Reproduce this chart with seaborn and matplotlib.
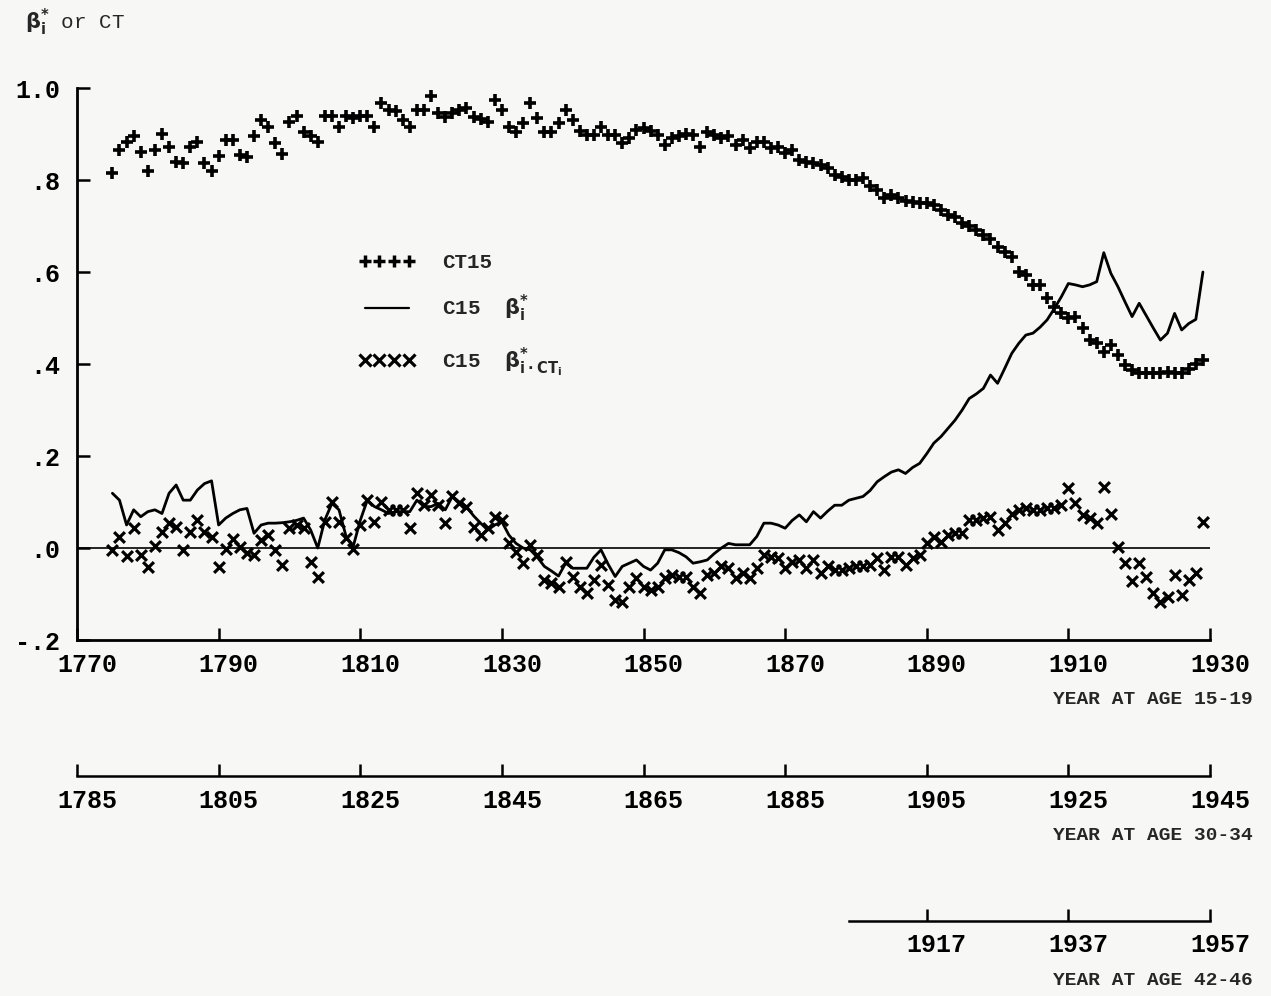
import numpy as np
import pandas as pd
import matplotlib
matplotlib.use("Agg")
import matplotlib.pyplot as plt
import matplotlib.transforms as mtrans
from matplotlib.lines import Line2D
import seaborn as sns

# ---------------- data ----------------
CT15_START = 1775
ct15 = [
    .815, .865, .883, .896, .860, .819, .865, .900, .872, .840,
    .836, .872, .883, .836, .819, .852, .887, .887, .854, .849,
    .895, .930, .916, .880, .857, .927, .940, .905, .895, .883,
    .940, .940, .915, .940, .935, .940, .940, .916, .968, .952,
    .950, .930, .916, .952, .953, .983, .945, .936, .945, .952,
    .956, .936, .932, .927, .974, .953, .915, .905, .924, .968,
    .935, .905, .905, .925, .953, .930, .907, .898, .898, .915,
    .898, .898, .880, .891, .909, .912, .907, .898, .876, .891,
    .895, .900, .898, .872, .905, .898, .891, .895, .876, .887,
    .869, .882, .883, .869, .872, .858, .865, .843, .840, .836,
    .833, .826, .811, .806, .800, .800, .804, .786, .778, .760,
    .767, .760, .755, .753, .751, .751, .746, .735, .724, .720,
    .706, .699, .691, .680, .671, .655, .644, .633, .600, .593,
    .572, .572, .543, .525, .510, .500, .503, .478, .452, .445,
    .427, .441, .420, .398, .387, .380, .380, .380, .381, .383,
    .380, .380, .390, .400, .408,
]

BETA_START = 1775
beta = [
    .119, .104, .050, .083, .068, .079, .083, .075, .119, .137,
    .104, .104, .126, .140, .146, .050, .065, .075, .083, .086,
    .032, .050, .054, .054, .055, .057, .060, .065, .039, .000,
    .061, .097, .083, .025, .003, .060, .104, .090, .083, .075,
    .079, .079, .079, .104, .090, .090, .097, .083, .112, .100,
    .090, .070, .054, .039, .050, .057, .028, .010, .000, -.004,
    -.020, -.040, -.050, -.061, -.033, -.044, -.044, -.044, -.020, -.004,
    -.035, -.062, -.040, -.033, -.026, -.040, -.048, -.033, -.004, -.004,
    -.010, -.019, -.033, -.030, -.026, -.012, .000, .010, .007, .007,
    .007, .025, .054, .054, .050, .043, .060, .072, .057, .079,
    .065, .080, .093, .093, .104, .108, .112, .125, .144, .155,
    .165, .170, .162, .175, .184, .205, .228, .242, .260, .278,
    .300, .325, .335, .347, .376, .358, .390, .423, .445, .463,
    .467, .480, .496, .520, .546, .575, .572, .568, .572, .579,
    .642, .597, .568, .535, .503, .532, .505, .478, .452, .467,
    .510, .474, .488, .497, .600,
]

BCT_START = 1775
beta_ct = [
    -.004, .023, -.017, .043, -.015, -.042, .004, .035, .054, .046,
    -.004, .035, .061, .035, .023, -.042, -.003, .019, .002, -.010,
    -.015, .017, .028, -.004, -.037, .043, .050, .043, -.030, -.064,
    .057, .101, .057, .021, -.003, .050, .104, .057, .101, .083,
    .083, .083, .043, .119, .093, .115, .093, .054, .113, .097,
    .090, .046, .028, .043, .067, .061, .010, -.008, -.033, .007,
    -.015, -.070, -.075, -.084, -.030, -.062, -.084, -.098, -.070, -.037,
    -.080, -.113, -.117, -.084, -.066, -.084, -.091, -.084, -.066, -.059,
    -.062, -.062, -.084, -.098, -.059, -.055, -.040, -.044, -.066, -.055,
    -.066, -.044, -.015, -.019, -.022, -.044, -.030, -.026, -.044, -.026,
    -.055, -.040, -.048, -.048, -.044, -.040, -.040, -.037, -.022, -.048,
    -.019, -.019, -.037, -.022, -.015, .010, .025, .014, .028, .032,
    .032, .061, .061, .065, .068, .039, .054, .075, .083, .086,
    .083, .083, .086, .088, .093, .130, .097, .072, .065, .054,
    .133, .075, .003, -.033, -.071, -.033, -.062, -.098, -.117, -.106,
    -.059, -.102, -.070, -.055, .057,
]

x_ticks_15 = [1770, 1790, 1810, 1830, 1850, 1870, 1890, 1910, 1930]
x_ticks_30 = [1785, 1805, 1825, 1845, 1865, 1885, 1905, 1925, 1945]
x_ticks_42 = [1917, 1937, 1957]
y_ticks = [-0.2, 0.0, 0.2, 0.4, 0.6, 0.8, 1.0]
y_labels = ["-.2", ".0", ".2", ".4", ".6", ".8", "1.0"]

legend_labels = ["CT15", r"C15  $\mathrm{\beta^{*}_{i}}$",
                 r"C15  $\mathrm{\beta^{*}_{i\cdot CT_{i}}}$"]
axis_titles = ["YEAR AT AGE 15-19", "YEAR AT AGE 30-34", "YEAR AT AGE 42-46"]
y_title = r"$\mathrm{\beta^{*}_{i}}$ or CT"

# ---------------- frames ----------------
df_ct = pd.DataFrame({"year": CT15_START + np.arange(len(ct15)), "value": ct15})
df_b = pd.DataFrame({"year": BETA_START + np.arange(len(beta)), "value": beta})
df_x = pd.DataFrame({"year": BCT_START + np.arange(len(beta_ct)), "value": beta_ct})

# ---------------- style ----------------
sns.set_theme(style="white")
plt.rcParams["font.family"] = ["Liberation Mono", "DejaVu Sans"]
plt.rcParams["font.weight"] = "bold"
plt.rcParams["mathtext.fontset"] = "dejavusans"

BG = "#f7f7f5"
W, H = 1271, 996
fig = plt.figure(figsize=(W / 100, H / 100), dpi=100, facecolor=BG)


def box(x0, y0, x1, y1):
    return [x0 / W, 1 - y1 / H, (x1 - x0) / W, (y1 - y0) / H]


ax = fig.add_axes(box(77, 88, 1210, 640))
ax.set_facecolor(BG)

sns.lineplot(data=df_b, x="year", y="value", color="black", linewidth=2.0, ax=ax)
sns.scatterplot(data=df_ct, x="year", y="value", marker="+", s=75, linewidth=2.6,
                color="black", ax=ax, clip_on=False)
sns.scatterplot(data=df_x, x="year", y="value", marker="x", s=60, linewidth=2.3,
                color="black", ax=ax, clip_on=False)
ax.axhline(0, color="black", linewidth=1.2)

ax.set_xlim(1770, 1930)
ax.set_ylim(-0.2, 1.0)
ax.set_xlabel("")
ax.set_ylabel("")
for s in ["top", "right"]:
    ax.spines[s].set_visible(False)
for s in ["left", "bottom"]:
    ax.spines[s].set_linewidth(2.0)
    ax.spines[s].set_color("black")

ax.set_xticks(x_ticks_15)
ax.set_xticklabels([str(t) for t in x_ticks_15])
ax.set_yticks(y_ticks)
ax.set_yticklabels(y_labels)
ax.tick_params(axis="both", direction="in", length=9, width=1.8, color="black",
               labelsize=18, labelcolor="black", bottom=True, left=True)
ax.tick_params(axis="x", pad=9)
ax.tick_params(axis="y", pad=12)

shift = mtrans.ScaledTranslation(0.10, 0, fig.dpi_scale_trans)
for lbl in ax.get_xticklabels():
    lbl.set_transform(lbl.get_transform() + shift)

# legend
h1 = Line2D([], [], ls="none", marker="+", color="black", ms=9, mew=2.5)
h2 = Line2D([], [], color="black", lw=1.6)
h3 = Line2D([], [], ls="none", marker="x", color="black", ms=8, mew=2.3)
ax.legend([h1, h2, h3], legend_labels, numpoints=4, handlelength=2.7,
          handletextpad=1.3, frameon=False, loc="upper left",
          bbox_to_anchor=(0.232, 0.735), fontsize=15, labelspacing=1.0)


# secondary year axes
def year_axis(y_px, lim, ticks, bounds=None):
    a = fig.add_axes(box(77, y_px - 1, 1210, y_px))
    a.patch.set_visible(False)
    a.set_xlim(*lim)
    a.set_yticks([])
    for s in ["top", "right", "left"]:
        a.spines[s].set_visible(False)
    a.spines["bottom"].set_linewidth(1.8)
    a.spines["bottom"].set_color("black")
    if bounds is not None:
        a.spines["bottom"].set_bounds(*bounds)
    a.set_xticks(ticks)
    a.set_xticklabels([str(t) for t in ticks])
    a.tick_params(axis="x", direction="in", length=9, width=1.8, color="black",
                  labelsize=18, pad=9, labelcolor="black", bottom=True)
    for lbl in a.get_xticklabels():
        lbl.set_transform(lbl.get_transform() + shift)
    return a


year_axis(776, (1785, 1945), x_ticks_30)
year_axis(921, (1797, 1957), x_ticks_42, bounds=(1906, 1957))

# titles
fig.text(1253 / W, 1 - 700 / H, axis_titles[0], ha="right", va="center", fontsize=14)
fig.text(1253 / W, 1 - 835 / H, axis_titles[1], ha="right", va="center", fontsize=14)
fig.text(1253 / W, 1 - 980 / H, axis_titles[2], ha="right", va="center", fontsize=14)
fig.text(25 / W, 1 - 22 / H, y_title, ha="left", va="center", fontsize=15,
         fontweight="normal")

fig.savefig("out.png", dpi=100, facecolor=BG)
